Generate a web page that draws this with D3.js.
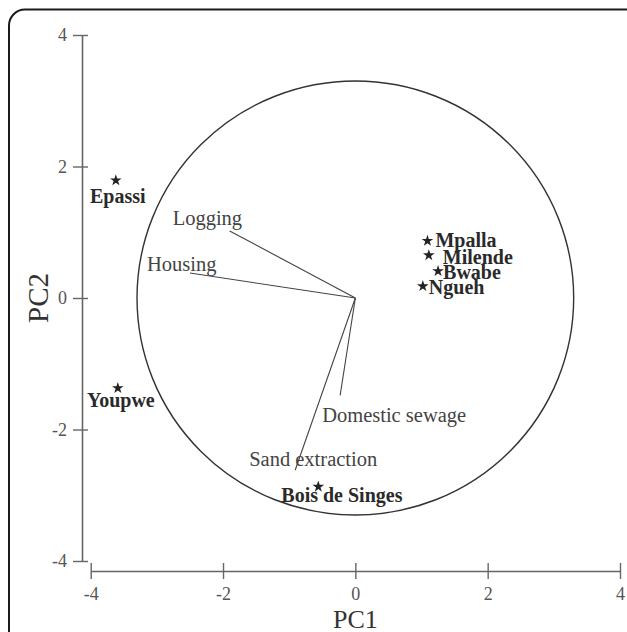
<!DOCTYPE html>
<html>
<head>
<meta charset="utf-8">
<script src="https://cdn.jsdelivr.net/npm/d3@7"></script>
<style>
  body { margin: 0; background: #fff; }
  svg { display: block; font-family: "Liberation Serif", "Times New Roman", serif; }
</style>
</head>
<body>
<svg width="627" height="632"></svg>
<script>
// site scores (PC1, PC2)
const sites = ["Epassi", "Youpwe", "Mpalla", "Milende", "Bwabe", "Ngueh", "Bois de Singes"];
const siteX = [-3.62, -3.59, 1.09, 1.11, 1.25, 1.02, -0.56];
const siteY = [1.79, -1.37, 0.87, 0.65, 0.41, 0.18, -2.87];

// variable loadings
const vars = ["Logging", "Housing", "Domestic sewage", "Sand extraction"];
const varX = [-1.90, -2.50, -0.23, -0.91];
const varY = [1.02, 0.38, -1.48, -2.62];

const ticks = [-4, -2, 0, 2, 4];
const circleR = 3.3;

const svg = d3.select("svg");

// frame
svg.append("rect")
  .attr("x", 9).attr("y", 9.5)
  .attr("width", 640).attr("height", 660)
  .attr("rx", 16)
  .attr("fill", "none")
  .attr("stroke", "#1a1a1a")
  .attr("stroke-width", 2);

const x = d3.scaleLinear().domain([-4, 4]).range([90.7, 620]);
const y = d3.scaleLinear().domain([-4, 4]).range([561, 35]);

const yAxisX = 82;
const xAxisY = 571;
const fmt = d => String(d); // plain hyphen minus like the original

// axes
const xAxis = d3.axisBottom(x).tickValues(ticks).tickFormat(fmt)
  .tickSizeOuter(0).tickSizeInner(8).tickPadding(8);
const gx = svg.append("g")
  .attr("transform", `translate(0,${xAxisY})`)
  .call(xAxis);
gx.selectAll(".tick line").attr("y1", -8).attr("y2", 8);

const yAxis = d3.axisLeft(y).tickValues(ticks).tickFormat(fmt)
  .tickSizeOuter(0).tickSizeInner(9).tickPadding(6);
const gy = svg.append("g")
  .attr("transform", `translate(${yAxisX},0)`)
  .call(yAxis);
gy.selectAll(".tick line").attr("x1", 6).attr("x2", -9);

[gx, gy].forEach(g => {
  g.select(".domain").attr("stroke", "#666").attr("stroke-width", 1.6);
  g.selectAll(".tick line").attr("stroke", "#666").attr("stroke-width", 1.4);
  g.selectAll(".tick text")
    .attr("fill", "#555")
    .style("font-family", "Liberation Serif, serif")
    .style("font-size", "18px");
});

// axis titles
svg.append("text")
  .attr("x", x(0)).attr("y", 628)
  .attr("text-anchor", "middle")
  .attr("fill", "#333")
  .style("font-size", "26px")
  .text("PC1");

svg.append("text")
  .attr("transform", `translate(48,${y(0)}) rotate(-90)`)
  .attr("text-anchor", "middle")
  .attr("fill", "#333")
  .style("font-size", "29px")
  .text("PC2");

// correlation circle
svg.append("ellipse")
  .attr("cx", x(0)).attr("cy", y(0))
  .attr("rx", x(circleR) - x(0))
  .attr("ry", y(0) - y(circleR))
  .attr("fill", "none")
  .attr("stroke", "#333")
  .attr("stroke-width", 1.4);

// variable vectors
const varLabelOff = [[-57, -6], [-43, -2], [-18, 27], [-46, -4]];
vars.forEach((v, i) => {
  svg.append("line")
    .attr("x1", x(0)).attr("y1", y(0))
    .attr("x2", x(varX[i])).attr("y2", y(varY[i]))
    .attr("stroke", "#444")
    .attr("stroke-width", 1.1);
  svg.append("text")
    .attr("x", x(varX[i]) + varLabelOff[i][0])
    .attr("y", y(varY[i]) + varLabelOff[i][1])
    .attr("fill", "#444")
    .style("font-size", "20.5px")
    .text(v);
});

// sites
const star = d3.symbol().type(d3.symbolStar).size(42);
const siteLabel = [
  ["middle", 2, 23], ["middle", 3, 19], ["start", 8, 6], ["start", 14, 9],
  ["start", 5, 8], ["start", 6, 8], ["start", -37, 15]
];
sites.forEach((s, i) => {
  svg.append("path")
    .attr("d", star)
    .attr("transform", `translate(${x(siteX[i])},${y(siteY[i])})`)
    .attr("fill", "#222");
  svg.append("text")
    .attr("x", x(siteX[i]) + siteLabel[i][1])
    .attr("y", y(siteY[i]) + siteLabel[i][2])
    .attr("text-anchor", siteLabel[i][0])
    .attr("fill", "#2a2a2a")
    .style("font-size", "20px")
    .style("font-weight", "bold")
    .text(s);
});
</script>
</body>
</html>
